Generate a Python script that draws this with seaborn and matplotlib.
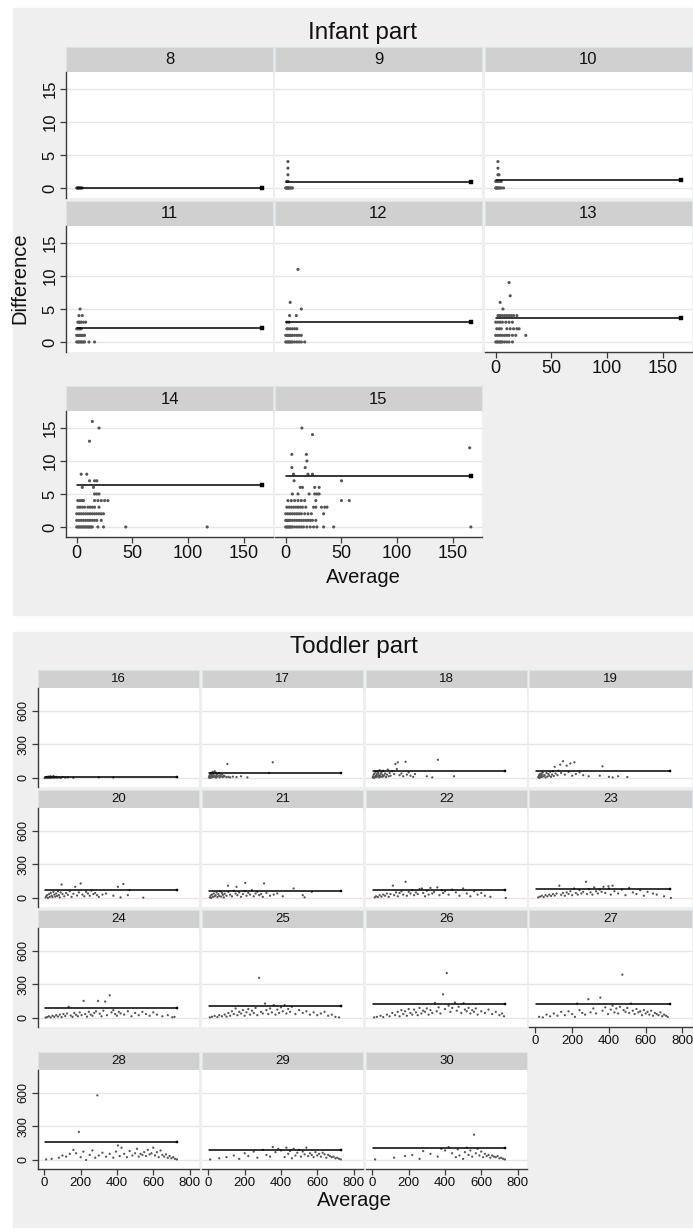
import matplotlib
matplotlib.use("Agg")
import matplotlib.pyplot as plt
import seaborn as sns
import pandas as pd
from matplotlib.patches import Rectangle

# ---------------- data: infant part (age in months 8..15) ----------------
infant_ages = [8, 9, 10, 11, 12, 13, 14, 15]
infant_mean = [0.05, 0.9, 1.2, 2.1, 3.1, 3.7, 6.4, 7.7]

avg_8 = [0, 0.5, 1, 1.5, 2, 2.5, 3, 3.5, 4, 5]
diff_8 = [0, 0, 0, 0, 0, 0, 0, 0, 0, 0]

avg_9 = [0, 0.5, 1, 1.5, 2, 2.5, 3, 4, 5, 6, 1, 2, 2, 2, 2]
diff_9 = [0, 0, 0, 0, 0, 0, 0, 0, 0, 0, 1, 1, 2, 3, 4]

avg_10 = [0, 0.5, 1, 1.5, 2, 3, 4, 5, 7, 0, 1, 2, 3, 4, 5, 2, 3, 2, 2]
diff_10 = [0, 0, 0, 0, 0, 0, 0, 0, 0, 1, 1, 1, 1, 1, 1, 2, 2, 3, 4]

avg_11 = [3, 2, 5, 1, 2, 3, 4, 6, 8, 0, 1, 2, 3, 4, 0, 1, 2, 3, 4, 5, 6, 7,
          0, 1, 2, 3, 4, 5, 6, 7, 11, 16]
diff_11 = [5, 4, 4, 3, 3, 3, 3, 3, 3, 2, 2, 2, 2, 2, 1, 1, 1, 1, 1, 1, 1, 1,
           0, 0, 0, 0, 0, 0, 0, 0, 0, 0]

avg_12 = [11, 4, 14, 3.5, 9.5, 1, 3, 1, 2, 4, 6, 8, 10, 0, 1, 2, 3, 4, 5, 6, 8,
          10, 12, 14, 0, 1, 2, 3, 4, 5, 6, 8, 10, 12, 14, 17]
diff_12 = [11, 6, 5, 4, 4, 3, 3, 2, 2, 2, 2, 2, 2, 1, 1, 1, 1, 1, 1, 1, 1,
           1, 1, 1, 0, 0, 0, 0, 0, 0, 0, 0, 0, 0, 0, 0]

avg_13 = [12, 13, 4, 6.5, 2, 3, 4, 6, 8, 10, 12, 14, 16, 19, 0, 2, 4, 6, 9,
          12, 15, 1, 3, 5, 10, 13, 16, 19, 21, 0, 2, 4, 6, 8, 10, 12, 15, 18,
          27, 0, 1, 2, 3, 4, 5, 6, 8, 10, 12, 15]
diff_13 = [9, 7, 6, 5, 4, 4, 4, 4, 4, 4, 4, 4, 4, 4, 3, 3, 3, 3, 3,
           3, 3, 2, 2, 2, 2, 2, 2, 2, 2, 1, 1, 1, 1, 1, 1, 1, 1, 1,
           1, 0, 0, 0, 0, 0, 0, 0, 0, 0, 0, 0]

avg_14 = [14, 20, 11.5, 4, 9, 11.5, 16, 18, 5, 15, 16, 18, 20, 1, 3, 5, 6,
          16, 19, 22, 25, 28, 1, 3, 5, 7, 10, 12, 14, 16, 20, 0, 2, 4, 6, 8,
          10, 12, 14, 16, 18, 20, 22, 24, 0, 2, 4, 6, 8, 10, 12, 14, 16, 18,
          22, 0, 1, 2, 3, 4, 5, 6, 7, 8, 9, 10, 11, 12, 13, 14, 19, 24, 44,
          117]
diff_14 = [16, 15, 13, 8, 8, 7, 7, 7, 6, 6, 5, 5, 5, 4, 4, 4, 4,
           4, 4, 4, 4, 4, 3, 3, 3, 3, 3, 3, 3, 3, 3, 2, 2, 2, 2, 2,
           2, 2, 2, 2, 2, 2, 2, 2, 1, 1, 1, 1, 1, 1, 1, 1, 1, 1,
           1, 0, 0, 0, 0, 0, 0, 0, 0, 0, 0, 0, 0, 0, 0, 0, 0, 0, 0,
           0]

avg_15 = [14.5, 24, 165, 5.5, 18.5, 19, 5.5, 17.5, 7, 20, 24, 7.5, 50, 13, 15,
          26, 30, 6, 11, 21, 26, 28, 30, 2, 5, 8, 11, 14, 17, 27, 50, 57, 1, 3,
          5, 7, 9, 11, 13, 15, 18, 25, 27, 32, 35, 37, 0, 2, 4, 6, 8, 10, 12,
          14, 17, 20, 23, 34, 0, 1, 2, 3, 4, 6, 8, 10, 12, 14, 16, 18, 20, 22,
          24, 27, 0, 1, 2, 3, 4, 5, 6, 8, 10, 12, 14, 16, 19, 22, 25, 28, 34,
          43, 166]
diff_15 = [15, 14, 12, 11, 11, 10, 9, 9, 8, 8, 8, 7, 7, 6, 6,
           6, 6, 5, 5, 5, 5, 5, 5, 4, 4, 4, 4, 4, 4, 4, 4, 4, 3, 3,
           3, 3, 3, 3, 3, 3, 3, 3, 3, 3, 3, 3, 2, 2, 2, 2, 2, 2, 2,
           2, 2, 2, 2, 2, 1, 1, 1, 1, 1, 1, 1, 1, 1, 1, 1, 1, 1, 1,
           1, 1, 0, 0, 0, 0, 0, 0, 0, 0, 0, 0, 0, 0, 0, 0, 0, 0, 0,
           0, 0]

# ---------------- data: toddler part (age in months 16..30) ----------------
toddler_ages = list(range(16, 31))
toddler_mean = [5, 42, 59, 62, 72, 66, 75, 84, 91, 109, 129, 129, 160, 92, 104]

avg_16 = [2, 5, 8, 10, 12, 15, 18, 20, 22, 25, 28, 30, 33, 35, 38, 40, 45, 50,
          55, 60, 65, 70, 80, 90, 100, 115, 130, 160, 300, 380]
diff_16 = [0, 2, 5, 0, 8, 3, 10, 0, 4, 12, 6, 2, 15, 0, 5, 9, 3, 18,
           0, 6, 10, 2, 4, 0, 8, 3, 5, 2, 6, 4]

avg_17 = [3, 5, 8, 10, 12, 14, 15, 18, 20, 22, 24, 25, 28, 30, 32, 35, 38, 40,
          42, 45, 48, 50, 55, 60, 62, 65, 70, 75, 80, 85, 90, 100, 105, 110,
          120, 135, 155, 180, 215, 335, 355]
diff_17 = [5, 15, 25, 0, 35, 10, 45, 20, 5, 30, 55, 12, 40, 8, 22, 60, 15, 50,
           3, 28, 10, 35, 18, 45, 5, 25, 12, 30, 8, 20, 15, 6, 125, 10,
           5, 12, 8, 15, 5, 45, 140]

avg_18 = [2, 5, 8, 10, 12, 15, 18, 20, 22, 25, 28, 30, 32, 35, 38, 40, 42, 45,
          48, 50, 55, 58, 60, 65, 70, 75, 80, 85, 90, 95, 100, 110, 120, 127,
          135, 140, 150, 160, 170, 183, 190, 200, 210, 225, 235, 300, 330, 361,
          450]
diff_18 = [5, 15, 30, 0, 40, 10, 55, 20, 8, 35, 60, 15, 45, 25, 5, 70, 18, 38,
           10, 50, 28, 12, 65, 22, 40, 8, 30, 75, 15, 45, 20, 60, 35, 125,
           80, 140, 25, 40, 15, 145, 30, 50, 20, 10, 35, 15, 5, 163,
           15]

avg_19 = [15, 18, 20, 22, 25, 28, 30, 32, 35, 38, 40, 45, 50, 55, 60, 65, 70,
          75, 80, 85, 90, 95, 100, 105, 110, 120, 125, 135, 140, 150, 160, 170,
          180, 190, 200, 212, 220, 240, 260, 290, 350, 365, 400, 420, 450, 500]
diff_19 = [5, 15, 25, 0, 35, 10, 20, 40, 8, 30, 50, 15, 25, 5, 45, 12, 35,
           20, 55, 10, 30, 60, 18, 100, 40, 25, 65, 120, 45, 150, 30, 110,
           55, 130, 20, 140, 35, 50, 25, 15, 20, 104, 10, 5, 15, 8]

avg_20 = [7, 10, 15, 20, 25, 30, 35, 40, 45, 50, 55, 60, 65, 70, 75, 80, 85, 90,
          95, 100, 110, 120, 130, 140, 150, 160, 170, 180, 190, 200, 210, 220,
          230, 240, 250, 260, 270, 280, 290, 300, 320, 340, 380, 405, 420, 435,
          460, 470, 545]
diff_20 = [5, 15, 25, 0, 35, 10, 45, 20, 8, 55, 30, 12, 40, 18, 60, 25, 5, 50,
           120, 35, 15, 45, 28, 60, 10, 38, 100, 22, 50, 130, 30, 15,
           55, 40, 20, 65, 35, 45, 25, 10, 30, 40, 20, 100, 5, 125,
           25, 70, 3]

avg_21 = [8, 12, 15, 20, 25, 30, 35, 40, 45, 50, 55, 60, 65, 70, 75, 80, 85, 90,
          100, 108, 110, 120, 130, 140, 150, 155, 160, 170, 180, 190, 200, 203,
          210, 220, 230, 240, 250, 260, 270, 280, 290, 300, 307, 320, 340, 360,
          380, 410, 470, 520, 530, 570]
diff_21 = [5, 20, 0, 30, 10, 40, 15, 25, 50, 8, 35, 18, 60, 12, 45, 28, 5, 38,
           20, 110, 55, 30, 15, 65, 40, 100, 25, 50, 10, 35, 60, 135,
           20, 45, 30, 70, 15, 40, 55, 25, 35, 10, 130, 45, 20, 30,
           40, 15, 85, 25, 5, 55]

avg_22 = [13, 20, 30, 40, 50, 60, 70, 80, 90, 100, 113, 120, 130, 140, 150, 160,
          170, 183, 190, 200, 210, 220, 230, 240, 250, 260, 273, 280, 290, 300,
          310, 320, 330, 340, 358, 370, 382, 390, 400, 420, 440, 460, 480, 500,
          520, 540, 560, 580, 600, 620, 650, 735]
diff_22 = [5, 15, 8, 25, 12, 30, 20, 40, 10, 35, 110, 25, 50, 15, 45, 60,
           30, 145, 20, 55, 40, 70, 25, 50, 35, 80, 85, 45, 15, 65,
           30, 90, 40, 55, 95, 25, 70, 45, 60, 30, 75, 50, 20, 85,
           40, 15, 60, 30, 45, 20, 10, 0]

avg_23 = [15, 25, 35, 45, 55, 65, 75, 85, 95, 105, 115, 130, 140, 150, 160, 170,
          180, 190, 200, 210, 220, 230, 240, 250, 260, 275, 280, 290, 300, 310,
          320, 330, 340, 350, 360, 370, 380, 397, 400, 410, 420, 430, 450, 470,
          490, 510, 530, 550, 570, 590, 610, 640, 660, 700, 737]
diff_23 = [5, 12, 20, 8, 25, 15, 30, 18, 35, 22, 40, 110, 28, 45, 20, 50,
           35, 60, 25, 85, 45, 30, 70, 40, 55, 145, 35, 80, 50, 30,
           95, 60, 40, 75, 55, 100, 45, 105, 85, 30, 110, 60, 40, 75,
           25, 90, 50, 35, 70, 20, 55, 40, 30, 15, 0]

avg_24 = [7, 15, 25, 35, 45, 55, 65, 75, 85, 95, 105, 115, 125, 134, 145, 155,
          165, 175, 185, 195, 205, 216, 225, 235, 245, 255, 265, 275, 285, 296,
          305, 315, 325, 335, 345, 360, 370, 380, 390, 400, 410, 420, 440, 460,
          480, 500, 520, 540, 560, 580, 600, 620, 650, 680, 705, 717]
diff_24 = [3, 8, 15, 5, 20, 10, 25, 12, 30, 8, 35, 18, 40, 100, 22, 10,
           45, 28, 15, 50, 25, 153, 35, 12, 55, 30, 20, 45, 60, 153,
           38, 15, 65, 147, 25, 203, 50, 70, 35, 20, 55, 40, 30, 60,
           15, 45, 25, 55, 35, 20, 50, 30, 15, 25, 6, 10]

avg_25 = [8, 20, 35, 50, 60, 75, 90, 100, 110, 120, 130, 140, 150, 160, 170,
          180, 190, 200, 210, 220, 230, 240, 250, 260, 270, 280, 290, 300, 312,
          320, 330, 340, 350, 360, 370, 380, 390, 400, 410, 420, 430, 440, 450,
          460, 480, 500, 520, 540, 560, 580, 600, 620, 640, 660, 680, 700, 720]
diff_25 = [5, 10, 18, 8, 25, 15, 30, 12, 45, 20, 60, 35, 85, 25, 55,
           40, 70, 20, 50, 80, 30, 65, 45, 90, 25, 359, 55, 40, 129,
           70, 35, 85, 50, 115, 30, 75, 45, 95, 60, 115, 40, 80, 55,
           100, 35, 70, 45, 60, 30, 50, 25, 40, 55, 20, 30, 10, 5]

avg_26 = [10, 25, 45, 60, 80, 95, 110, 125, 140, 150, 160, 170, 180, 190, 200,
          210, 220, 230, 240, 250, 260, 270, 280, 290, 300, 310, 320, 330, 345,
          355, 365, 375, 390, 400, 410, 420, 430, 440, 455, 465, 475, 490, 503,
          510, 520, 530, 540, 550, 560, 570, 580, 600, 620, 640, 660, 680, 700,
          715, 725]
diff_26 = [5, 10, 20, 8, 30, 15, 45, 25, 55, 15, 70, 35, 60, 20, 80,
           45, 30, 75, 50, 25, 90, 40, 65, 55, 85, 30, 70, 45, 135,
           60, 95, 40, 212, 80, 403, 110, 55, 90, 138, 65, 100, 45, 132,
           75, 60, 90, 40, 70, 55, 85, 30, 60, 45, 75, 35, 55, 25,
           40, 15]

avg_27 = [20, 40, 60, 80, 100, 120, 140, 160, 180, 200, 215, 227, 240, 255,
          270, 288, 300, 315, 330, 353, 365, 380, 395, 410, 420, 430, 440, 450,
          460, 473, 480, 490, 500, 510, 520, 530, 540, 550, 560, 570, 580, 590,
          600, 610, 620, 630, 640, 650, 660, 670, 680, 690, 700, 710, 720]
diff_27 = [10, 5, 30, 15, 40, 20, 55, 25, 60, 35, 10, 129, 70, 45,
           30, 168, 50, 85, 40, 182, 65, 95, 35, 75, 110, 50, 85, 40,
           100, 388, 70, 55, 90, 45, 129, 65, 35, 80, 50, 60, 25, 70,
           40, 55, 30, 65, 20, 45, 35, 25, 50, 15, 30, 20, 10]

avg_28 = [10, 40, 80, 100, 120, 140, 160, 175, 190, 200, 215, 230, 250, 265,
          280, 292, 300, 320, 340, 360, 380, 395, 405, 415, 425, 440, 455, 470,
          485, 500, 510, 520, 530, 540, 550, 560, 570, 580, 590, 600, 610, 620,
          630, 640, 650, 660, 670, 680, 690, 700, 710, 720, 730]
diff_28 = [5, 10, 20, 40, 30, 55, 90, 60, 252, 25, 75, 0, 45, 85,
           20, 579, 40, 65, 30, 55, 20, 75, 130, 35, 110, 55, 25, 80,
           40, 60, 100, 30, 55, 45, 70, 35, 90, 50, 60, 110, 40, 70,
           25, 85, 45, 30, 50, 20, 35, 15, 25, 10, 5]

avg_29 = [10, 60, 100, 140, 170, 200, 220, 250, 270, 300, 320, 340, 355, 370,
          385, 400, 420, 430, 440, 450, 460, 470, 480, 490, 500, 510, 520, 530,
          540, 550, 560, 570, 580, 590, 600, 610, 620, 630, 640, 650, 660, 670,
          680, 690, 700, 710, 720, 730]
diff_29 = [5, 15, 25, 40, 10, 60, 35, 75, 20, 90, 45, 30, 115, 70,
           100, 85, 25, 110, 55, 80, 15, 100, 40, 65, 90, 30, 75, 50,
           110, 35, 60, 45, 25, 70, 40, 55, 30, 65, 50, 20, 45, 35,
           25, 30, 15, 20, 10, 5]

avg_30 = [15, 120, 180, 220, 260, 280, 320, 360, 380, 400, 420, 440, 460, 470,
          480, 500, 510, 520, 530, 540, 550, 560, 570, 580, 590, 600, 610, 620,
          630, 640, 650, 660, 670, 680, 690, 700, 710, 720, 730]
diff_30 = [5, 20, 35, 45, 10, 80, 55, 30, 100, 85, 115, 60, 25, 95,
           40, 10, 70, 110, 45, 85, 30, 226, 60, 100, 40, 75, 25, 55,
           35, 45, 20, 40, 30, 25, 35, 15, 20, 10, 5]

infant_y_ticks = [0, 5, 10, 15]
infant_x_ticks = [0, 50, 100, 150]
toddler_y_ticks = [0, 300, 600]
toddler_x_ticks = [0, 200, 400, 600, 800]

# ---------------- assemble long tables ----------------
g = globals()
infant = pd.concat([pd.DataFrame({"age": a, "Average": g[f"avg_{a}"], "Difference": g[f"diff_{a}"]})
                    for a in infant_ages], ignore_index=True)
toddler = pd.concat([pd.DataFrame({"age": a, "Average": g[f"avg_{a}"], "Difference": g[f"diff_{a}"]})
                     for a in toddler_ages], ignore_index=True)

# ---------------- figure ----------------
W, H = 693, 1232
sns.set_style("white")
plt.rcParams['font.family'] = ['Liberation Sans', 'DejaVu Sans']
fig = plt.figure(figsize=(W / 100, H / 100), dpi=100)

BG = "#EFEFEF"
STRIP = "#D0D0D0"
STRIP_EDGE = "#DCE4EA"
GRID = "#E6E6E6"
DOT = "#555555"
AX = "#3A3A3A"
TXT = "#111111"


def box(x, y, w, h):
    return [x / W, 1 - (y + h) / H, w / W, h / H]


def bg_rect(x, y, w, h, color):
    fig.patches.append(Rectangle((x / W, 1 - (y + h) / H), w / W, h / H,
                                 transform=fig.transFigure, color=color, zorder=-10))


def draw_part(df, ages, means, cols, col_x, col_w, strip_tops, strip_h, plot_h,
              xlim, ylim, xticks, yticks, line_x, dot_s, end_s, fs_ytick, fs_xtick,
              fs_strip, xlab_panels, lw):
    for i, age in enumerate(ages):
        r, c = divmod(i, cols)
        x0, w = col_x[c], col_w[c]
        st = strip_tops[r]
        # strip
        sax = fig.add_axes(box(x0, st, w, strip_h))
        sax.set_facecolor(STRIP)
        sax.set_xticks([]); sax.set_yticks([])
        for sp in sax.spines.values():
            sp.set_color(STRIP_EDGE); sp.set_linewidth(0.8)
        sax.text(0.5, 0.48, str(age), ha="center", va="center",
                 fontsize=fs_strip, color=TXT, transform=sax.transAxes)
        # plot
        ax = fig.add_axes(box(x0, st + strip_h, w, plot_h))
        ax.set_facecolor("white")
        sub = df[df["age"] == age]
        sns.scatterplot(data=sub, x="Average", y="Difference", ax=ax, s=dot_s,
                        color=DOT, linewidth=0, edgecolor="none", zorder=3)
        m = means[i]
        line_df = pd.DataFrame({"Average": line_x, "Difference": [m, m]})
        sns.lineplot(data=line_df, x="Average", y="Difference", ax=ax,
                     color="black", linewidth=lw, zorder=4)
        sns.scatterplot(data=line_df.iloc[[1]], x="Average", y="Difference", ax=ax,
                        marker="s", s=end_s, color="black", edgecolor="black",
                        linewidth=0.3, zorder=5)
        ax.set_xlim(*xlim); ax.set_ylim(*ylim)
        ax.set_yticks(yticks); ax.set_xticks(xticks)
        ax.yaxis.grid(True, color=GRID, linewidth=1.0)
        ax.xaxis.grid(False)
        ax.set_axisbelow(True)
        ax.set_xlabel(""); ax.set_ylabel("")
        for sp in ax.spines.values():
            sp.set_visible(False)
        if c == 0:
            ax.spines["left"].set_visible(True)
            ax.spines["left"].set_color(AX); ax.spines["left"].set_linewidth(1.0)
            ax.tick_params(axis="y", left=True, length=4, width=0.9, color=AX,
                           labelsize=fs_ytick, labelcolor=TXT, pad=2)
            for t in ax.get_yticklabels():
                t.set_rotation(90); t.set_va("center")
        else:
            ax.tick_params(axis="y", left=False, labelleft=False)
        if age in xlab_panels:
            ax.spines["bottom"].set_visible(True)
            ax.spines["bottom"].set_color(AX); ax.spines["bottom"].set_linewidth(1.0)
            ax.tick_params(axis="x", bottom=True, length=4, width=0.9, color=AX,
                           labelsize=fs_xtick, labelcolor=TXT, pad=2)
        else:
            ax.tick_params(axis="x", bottom=False, labelbottom=False)


# ---- Infant part ----
bg_rect(13, 8, 680, 607, BG)
fig.text(362 / W, 1 - 33 / H, "Infant part", ha="center", va="center",
         fontsize=17.5, color=TXT)
draw_part(infant, infant_ages, infant_mean, cols=3,
          col_x=[66, 275, 485], col_w=[207, 207, 207],
          strip_tops=[47, 201, 386], strip_h=25, plot_h=126,
          xlim=(-9.6, 176), ylim=(-1.52, 17.58),
          xticks=infant_x_ticks, yticks=infant_y_ticks, line_x=[0, 166],
          dot_s=5.0, end_s=6.0, fs_ytick=12, fs_xtick=13, fs_strip=12,
          xlab_panels=[13, 14, 15], lw=1.1)
fig.text(20 / W, 1 - 278 / H, "Difference", rotation=90, ha="center",
         va="center", fontsize=14.5, color=TXT)
fig.text(363 / W, 1 - 577 / H, "Average", ha="center", va="center",
         fontsize=14.5, color=TXT)

# ---- Toddler part ----
bg_rect(13, 632, 680, 595, BG)
fig.text(354 / W, 1 - 647 / H, "Toddler part", ha="center", va="center",
         fontsize=17.5, color=TXT)
draw_part(toddler, toddler_ages, toddler_mean, cols=4,
          col_x=[38, 202, 366, 529], col_w=[161, 161, 161, 163],
          strip_tops=[670, 790, 910, 1052], strip_h=18, plot_h=99,
          xlim=(-35, 852), ylim=(-81, 806),
          xticks=toddler_x_ticks, yticks=toddler_y_ticks, line_x=[5, 730],
          dot_s=2.6, end_s=4.5, fs_ytick=9, fs_xtick=9.5, fs_strip=9.5,
          xlab_panels=[27, 28, 29, 30], lw=1.1)
fig.text(354 / W, 1 - 1200 / H, "Average", ha="center", va="center",
         fontsize=14.5, color=TXT)

fig.savefig("out.png", dpi=100)
